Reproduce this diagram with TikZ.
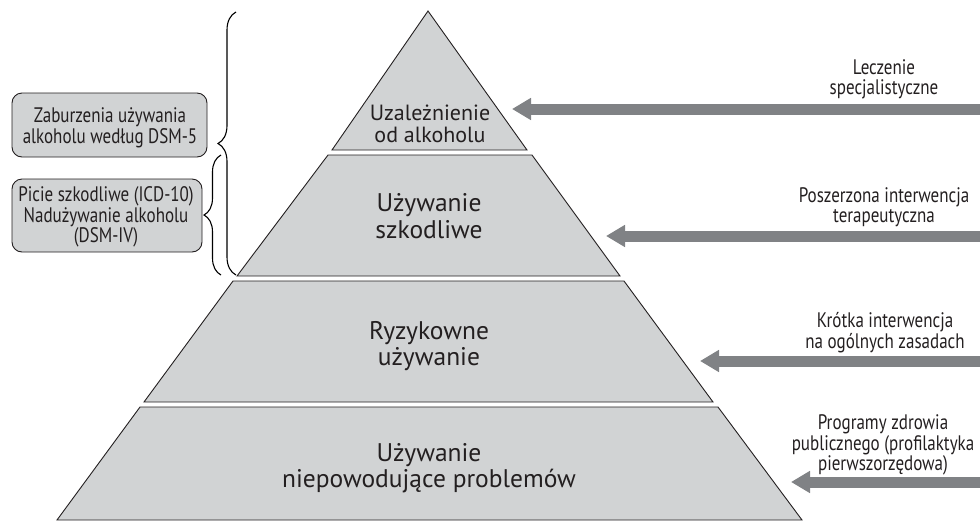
\documentclass[tikz,border=0pt]{standalone}
\usepackage{fontspec}
\setmainfont{PT Sans}
\newfontfamily\condfont[FakeStretch=0.81]{PT Sans}
\usetikzlibrary{arrows.meta,decorations.pathreplacing}
\definecolor{tiergray}{HTML}{D1D3D4}
\definecolor{arrowgray}{HTML}{808285}
\definecolor{inkgray}{HTML}{231F20}
\tikzset{
  tier/.style={fill=tiergray, draw=inkgray, line width=0.9pt, line join=miter},
  tiertext/.style={text=inkgray, align=center, font=\fontsize{25.5}{26.5}\selectfont, inner sep=0pt},
  toptext/.style={text=inkgray, align=center, font=\fontsize{22}{21.5}\selectfont, inner sep=0pt},
  sidelabel/.style={text=inkgray, align=center, font=\condfont\fontsize{21}{20.5}\selectfont, inner sep=0pt},
  defbox/.style={fill=tiergray, draw=inkgray, line width=0.9pt, rounded corners=10pt, text=inkgray, align=center, font=\condfont\fontsize{21}{21}\selectfont, inner sep=0pt},
  bigarrow/.style={draw=arrowgray, line width=11pt, -{Triangle[length=19pt,width=21pt]}},
  bracestyle/.style={draw=black, line width=1.1pt, decorate}
}
\begin{document}
\begin{tikzpicture}[x=1pt, y=-1pt]
\useasboundingbox (0,0) rectangle (980,520);
% pyramid tiers
\path[tier] (428,11) -- (527,150) -- (332,150) -- cycle;
\path[tier] (328,155) -- (532,155) -- (620,276) -- (237,276) -- cycle;
\path[tier] (233,281) -- (624,281) -- (713,402) -- (144,402) -- cycle;
\path[tier] (140,407) -- (718,407) -- (802,520) -- (57,520) -- cycle;
% tier texts
\node[toptext] (t1) at (430,124) {Uzależnienie\\od alkoholu};
\node[tiertext] (t2) at (429,216) {Używanie\\szkodliwe};
\node[tiertext] (t3) at (429,346) {Ryzykowne\\używanie};
\node[tiertext] (t4) at (429,468) {Używanie\\niepowodujące problemów};
% arrows
\coordinate (h1) at (512,109); \coordinate (s1) at (980,109);
\coordinate (h2) at (606,236); \coordinate (s2) at (980,236);
\coordinate (h3) at (700,361); \coordinate (s3) at (980,361);
\coordinate (h4) at (791,482); \coordinate (s4) at (980,482);
\draw[bigarrow] (s1) -- (h1);
\draw[bigarrow] (s2) -- (h2);
\draw[bigarrow] (s3) -- (h3);
\draw[bigarrow] (s4) -- (h4);
% right labels
\node[sidelabel] (l1) at (884,79.5) {Leczenie\\specjalistyczne};
\node[sidelabel] (l2) at (884,207) {Poszerzona interwencja\\terapeutyczna};
\node[sidelabel] (l3) at (885,332.5) {Krótka interwencja\\na ogólnych zasadach};
\node[sidelabel] (l4) at (883,445) {Programy zdrowia\\publicznego (profilaktyka\\pierwszorzędowa)};
% left boxes
\node[defbox, minimum width=195pt, minimum height=64pt] (b1) at (109.5,125) {};
\node[defbox, minimum width=190pt, minimum height=73pt] (b2) at (107,215.5) {};
\node[sidelabel, font=\condfont\fontsize{21}{21}\selectfont] (bt1) at (110,128) {Zaburzenia używania\\alkoholu według DSM-5};
\node[sidelabel, font=\condfont\fontsize{21}{20.5}\selectfont] (bt2) at (106,217) {Picie szkodliwe (ICD-10)\\Nadużywanie alkoholu\\(DSM-IV)};
% braces
\coordinate (ba) at (236,275); \coordinate (bb) at (236,12);
\coordinate (sa) at (221,275); \coordinate (sb) at (221,155);
\draw[bracestyle, decoration={brace, amplitude=18pt}] (ba) -- (bb);
\draw[bracestyle, decoration={brace, amplitude=17pt}] (sa) -- (sb);
\end{tikzpicture}
\end{document}
